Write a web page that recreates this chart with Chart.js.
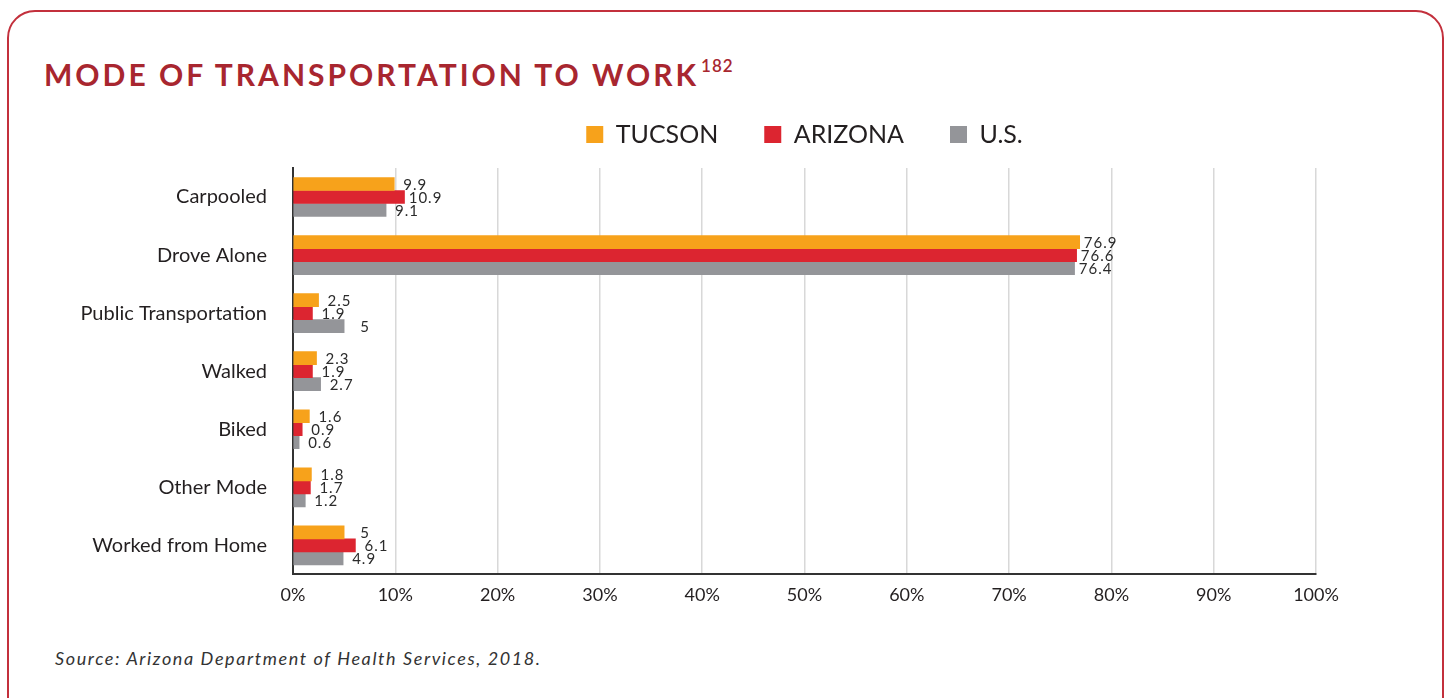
<!DOCTYPE html>
<html>
<head>
<meta charset="utf-8">
<script src="https://cdn.jsdelivr.net/npm/chart.js@4.4.1/dist/chart.umd.min.js"></script>
<style>
  html, body { margin: 0; padding: 0; background: #fff; }
  body { width: 1450px; height: 698px; position: relative; overflow: hidden; font-family: Lato, "Open Sans", sans-serif; }
  .card {
    position: absolute; left: 7px; top: 10px; width: 1437px; height: 720px;
    border: 2px solid #c3303c; border-radius: 28px; box-sizing: border-box;
  }
  .title {
    position: absolute; left: 44px; top: 56px; margin: 0;
    font-family: Lato, sans-serif; font-weight: 700; font-size: 30px; letter-spacing: 3px;
    color: #a8262f; white-space: nowrap;
  }
  .title sup { font-size: 17px; font-weight: 600; vertical-align: 0; position: relative; top: -14px; letter-spacing: 1px; margin-left: 2px; }
  .source {
    position: absolute; left: 55px; top: 647px;
    font-family: Lato, sans-serif; font-style: italic; font-size: 18px; color: #333; letter-spacing: 1.6px;
  }
  #chart-wrap { position: absolute; left: 0; top: 0; width: 1450px; height: 626px; }
</style>
</head>
<body>
<div class="card"></div>
<h1 class="title">MODE OF TRANSPORTATION TO WORK<sup>182</sup></h1>
<div id="chart-wrap"><canvas id="transportChart"></canvas></div>
<div class="source">Source: Arizona Department of Health Services, 2018.</div>

<script>
// Chart data
const categories = ['Carpooled', 'Drove Alone', 'Public Transportation', 'Walked', 'Biked', 'Other Mode', 'Worked from Home'];
const tucson = [9.9, 76.9, 2.5, 2.3, 1.6, 1.8, 5];
const arizona = [10.9, 76.6, 1.9, 1.9, 0.9, 1.7, 6.1];
const us = [9.1, 76.4, 5, 2.7, 0.6, 1.2, 4.9];
const seriesNames = ['TUCSON', 'ARIZONA', 'U.S.'];
const tickValues = [0, 10, 20, 30, 40, 50, 60, 70, 80, 90, 100];

const seriesColors = ['#f7a21b', '#dc2530', '#949599'];

// Value labels drawn just past the end of each bar
const barValueLabels = {
    id: 'barValueLabels',
    afterDatasetsDraw(chart) {
        const ctx = chart.ctx;
        ctx.save();
        ctx.font = '15px Lato, sans-serif';
        ctx.letterSpacing = '1px';
        ctx.fillStyle = '#2b2b2b';
        ctx.textAlign = 'center';
        ctx.textBaseline = 'middle';
        chart.data.datasets.forEach((ds, i) => {
            const meta = chart.getDatasetMeta(i);
            meta.data.forEach((bar, j) => {
                ctx.fillText(String(ds.data[j]), bar.x + 21, bar.y + 1);
            });
        });
        ctx.restore();
    }
};

// Centre the legend over the plot area and lift it up to its own row
const legendPlacement = {
    id: 'legendPlacement',
    afterLayout(chart) {
        const lg = chart.legend;
        if (!lg) return;
        const h = lg.bottom - lg.top;
        lg.left = chart.chartArea.left;
        lg.right = chart.chartArea.right;
        lg.top = 76;
        lg.bottom = lg.top + h;
    }
};

const ctx = document.getElementById('transportChart');
new Chart(ctx, {
    type: 'bar',
    data: {
        labels: categories,
        datasets: [tucson, arizona, us].map((values, i) => ({
            label: seriesNames[i],
            data: values,
            backgroundColor: seriesColors[i],
            borderWidth: 0,
            barThickness: 13,
            categoryPercentage: 0.79
        }))
    },
    options: {
        indexAxis: 'y',
        responsive: true,
        maintainAspectRatio: false,
        animation: false,
        layout: {
            padding: { left: 0, right: 134, top: 87, bottom: 10 }
        },
        plugins: {
            legend: {
                position: 'top',
                align: 'center',
                labels: {
                    boxWidth: 17,
                    boxHeight: 17,
                    padding: 46,
                    color: '#231f20',
                    font: { family: 'Lato, sans-serif', size: 25 }
                }
            },
            tooltip: { enabled: false }
        },
        scales: {
            x: {
                min: 0,
                max: 100,
                afterBuildTicks: function(scale) {
                    scale.ticks = tickValues.map(v => ({ value: v }));
                },
                ticks: {
                    callback: function(value) { return value + '%'; },
                    color: '#231f20',
                    padding: 10,
                    font: { family: 'Lato, sans-serif', size: 18 }
                },
                grid: { color: '#d8d8d8', lineWidth: 1.5, drawTicks: false },
                border: { color: '#333', width: 2 }
            },
            y: {
                afterFit: function(scale) { scale.width = 293; },
                ticks: {
                    color: '#231f20',
                    padding: 26,
                    font: { family: 'Lato, sans-serif', size: 20 }
                },
                grid: { display: false, drawTicks: false },
                border: { color: '#333', width: 2 }
            }
        }
    },
    plugins: [barValueLabels, legendPlacement]
});
</script>
</body>
</html>
